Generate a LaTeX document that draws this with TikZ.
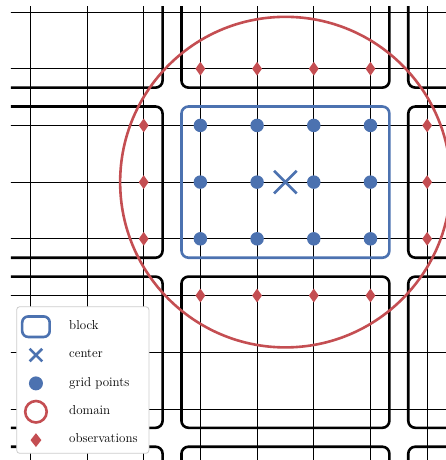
\documentclass[tikz,border=0pt]{standalone}
\usepackage{tikz}
\usetikzlibrary{positioning,shapes.geometric,shapes.misc}
\definecolor{blkblue}{RGB}{76,114,176}
\definecolor{domred}{RGB}{196,78,82}
\tikzset{
  gridln/.style ={draw=black, line width=0.8pt},
  blkbox/.style ={draw=black, line width=2.6pt, rounded corners=7pt},
  ctrbox/.style ={draw=blkblue, line width=2.6pt, rounded corners=7pt},
  gpt/.style    ={circle, fill=blkblue, inner sep=0pt, minimum size=13.5pt},
  obs/.style    ={diamond, fill=domred, inner sep=0pt, minimum width=10pt, minimum height=14pt},
  ctr/.style    ={cross out, draw=blkblue, line width=2.6pt, inner sep=0pt, minimum size=20pt},
  domc/.style   ={draw=domred, line width=2.6pt},
  legtxt/.style ={anchor=west, inner sep=0pt, text height=1.6ex, text depth=0.3ex,
                  font=\fontsize{13}{15}\selectfont},
}

\begin{document}
\begin{tikzpicture}[x=56.7pt,y=-56.7pt]
\useasboundingbox (-0.534,-0.212) rectangle (7.332,7.901);
\begin{scope}
\clip (-0.34,-0.093) rectangle (7.4,8);
% grid
\foreach \k in {0,...,7}{
  \draw[gridln] (\k,-0.5) -- (\k,8.5);
  \draw[gridln] (-0.5,\k) -- (7.5,\k);
}
% blocks
\foreach \sx/\sy in {-1/-1,-1/2,-1/5,-1/8,3/-1,3/5,3/8,7/-1,7/2,7/5,7/8}{
  \draw[blkbox] (\sx-1/3,\sy-1/3) rectangle (\sx+10/3,\sy+7/3);
}
\draw[ctrbox] (8/3,5/3) rectangle (19/3,13/3);
% domain
\node[ctr] (ctr) at (4.5,3) {};
\draw[domc] (ctr.center) circle[radius=2.915];
% grid points
\foreach \i in {3,...,6}{
  \foreach \j in {2,3,4}{
    \node[gpt] (g\i\j) at (\i,\j) {};
  }
  \node[obs] (ot\i) at (\i,1) {};
  \node[obs] (ob\i) at (\i,5) {};
}
\foreach \j in {2,3,4}{
  \node[obs] (ol\j) at (2,\j) {};
  \node[obs] (or\j) at (7,\j) {};
}
\end{scope}

% legend
\draw[draw=black!20, fill=white, line width=0.8pt, rounded corners=3pt]
  (-0.24,5.198) rectangle (2.093,7.783);
\node[ctrbox, minimum width=27.5pt, minimum height=20.5pt, rounded corners=6pt] (lblock) at (0.1,5.55) {};
\node[ctr, minimum size=10pt] (lctr) at (0.1,6.05) {};
\node[gpt, minimum size=14pt] (lgpt) at (0.1,6.55) {};
\node[circle, domc, minimum size=21.5pt, inner sep=0pt] (ldom) at (0.1,7.05) {};
\node[obs, minimum width=11pt] (lobs) at (0.1,7.55) {};
\node[legtxt] (tblock) at (0.683,5.55) {block};
\node[legtxt] (tctr) at (0.683,6.05) {center};
\node[legtxt] (tgpt) at (0.683,6.55) {grid points};
\node[legtxt] (tdom) at (0.683,7.05) {domain};
\node[legtxt] (tobs) at (0.683,7.55) {observations};
\end{tikzpicture}
\end{document}
